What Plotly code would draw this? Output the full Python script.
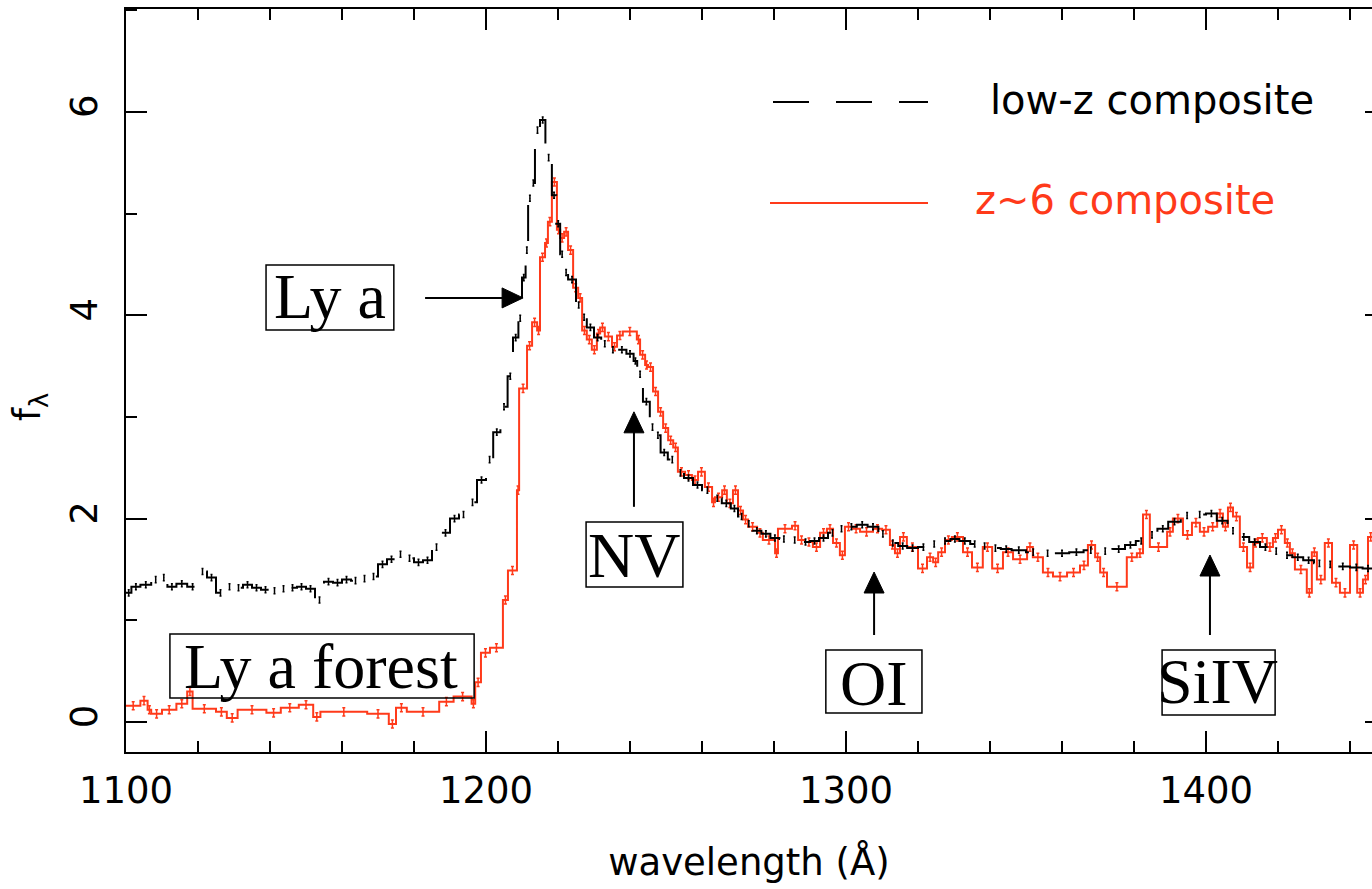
import plotly.graph_objects as go

# ---------------- data ----------------
# z~6 composite: bin left edges (Angstrom) and flux values
red_wave = [1100.0, 1104.0, 1106.0, 1107.0, 1110.0, 1114.0, 1117.0, 1118.5, 1125.0, 1128.0,
            1131.0, 1139.0, 1143.0, 1148.0, 1152.0, 1154.0, 1167.0, 1173.0, 1175.0, 1178.0,
            1187.0, 1191.0, 1196.0, 1197.0, 1198.6, 1201.1, 1204.7, 1206.1, 1208.6, 1209.2,
            1211.4, 1212.8, 1214.2, 1215.0, 1216.4, 1217.2, 1218.3, 1219.7, 1220.6, 1221.7,
            1222.8, 1224.2, 1225.6, 1226.7, 1228.0, 1229.4, 1230.8, 1231.7, 1233.0, 1235.0,
            1236.4, 1238.0, 1241.9, 1242.8, 1244.2, 1245.0, 1246.4, 1247.8, 1249.2, 1250.6,
            1252.0, 1253.3, 1255.3, 1257.2, 1258.9, 1260.8, 1262.8, 1263.6, 1265.6, 1266.9,
            1268.6, 1270.0, 1271.4, 1272.8, 1275.3, 1276.9, 1280.3, 1281.1, 1285.0, 1286.7,
            1288.6, 1290.8, 1292.8, 1294.7, 1296.4, 1298.3, 1299.7, 1301.7, 1303.9, 1307.5,
            1310.0, 1312.2, 1313.6, 1315.0, 1316.9, 1320.0, 1322.5, 1324.2, 1325.6, 1327.5,
            1329.4, 1332.5, 1335.0, 1338.0, 1340.6, 1343.6, 1346.4, 1350.3, 1351.9, 1354.7,
            1357.5, 1361.4, 1365.0, 1367.2, 1369.2, 1370.6, 1372.5, 1378.0, 1380.8, 1382.5,
            1384.4, 1389.2, 1390.8, 1393.6, 1396.1, 1398.3, 1400.6, 1403.1, 1404.7, 1406.1,
            1407.5, 1409.4, 1411.4, 1413.1, 1414.4, 1416.9, 1418.6, 1420.0, 1421.9, 1423.3,
            1424.7, 1428.0, 1429.4, 1430.8, 1433.0, 1435.0, 1437.2, 1440.0, 1442.0, 1443.6,
            1445.0]
red_flux = [0.16, 0.21, 0.12, 0.08, 0.12, 0.18, 0.30, 0.13, 0.10, 0.04,
            0.12, 0.09, 0.14, 0.17, 0.05, 0.10, 0.08, -0.02, 0.14, 0.10,
            0.20, 0.25, 0.18, 0.39, 0.68, 0.73, 1.20, 1.49, 2.28, 3.28,
            3.70, 3.93, 3.85, 4.57, 4.71, 4.92, 5.31, 4.84, 4.76, 4.82,
            4.64, 4.27, 4.17, 3.85, 3.76, 3.66, 3.82, 3.88, 3.79, 3.69,
            3.80, 3.84, 3.76, 3.61, 3.51, 3.49, 3.25, 3.05, 2.89, 2.77,
            2.70, 2.46, 2.43, 2.38, 2.46, 2.31, 2.16, 2.21, 2.28, 2.15,
            2.28, 2.08, 1.99, 1.92, 1.86, 1.79, 1.66, 1.90, 1.93, 1.79,
            1.77, 1.72, 1.86, 1.90, 1.76, 1.64, 1.92, 1.90, 1.87, 1.90,
            1.89, 1.74, 1.66, 1.82, 1.72, 1.51, 1.62, 1.57, 1.67, 1.79,
            1.82, 1.67, 1.52, 1.72, 1.51, 1.67, 1.60, 1.72, 1.62, 1.47,
            1.43, 1.47, 1.54, 1.74, 1.62, 1.47, 1.33, 1.62, 1.66, 2.04,
            1.72, 1.87, 2.00, 1.84, 1.96, 1.87, 1.92, 2.05, 1.92, 2.11,
            2.02, 1.72, 1.52, 1.76, 1.81, 1.72, 1.81, 1.89, 1.76, 1.66,
            1.50, 1.27, 1.67, 1.40, 1.76, 1.37, 1.27, 1.74, 1.27, 1.40,
            1.82]
red_end = 1446.5
red_err = 0.04

# low-z composite: bin left edges (Angstrom) and flux values
black_wave = [1100.0, 1101.5, 1104.0, 1107.0, 1109.5, 1111.5, 1114.0, 1117.0, 1120.0, 1122.5,
              1125.0, 1127.5, 1130.0, 1132.5, 1135.0, 1137.5, 1140.0, 1142.5, 1145.0, 1147.5,
              1150.0, 1152.5, 1155.0, 1157.5, 1160.0, 1162.5, 1165.0, 1167.5, 1170.0, 1172.5,
              1175.0, 1177.5, 1180.0, 1182.5, 1185.0, 1187.5, 1190.0, 1192.5, 1195.0, 1197.5,
              1200.0, 1202.0, 1204.0, 1206.0, 1207.5, 1209.0, 1210.0, 1211.0, 1211.7, 1212.7,
              1213.6, 1215.0, 1216.5, 1218.3, 1219.5, 1220.6, 1221.7, 1222.8, 1225.0, 1226.5,
              1228.0, 1230.0, 1232.0, 1234.0, 1236.5, 1239.0, 1241.0, 1242.0, 1243.6, 1245.5,
              1247.0, 1248.5, 1250.5, 1253.0, 1255.0, 1257.5, 1260.0, 1263.0, 1265.5, 1268.0,
              1270.0, 1272.0, 1274.0, 1276.5, 1279.0, 1281.5, 1284.0, 1287.5, 1290.0, 1292.5,
              1295.0, 1297.5, 1300.0, 1303.0, 1306.0, 1309.0, 1311.5, 1314.5, 1317.0, 1320.0,
              1323.0, 1326.0, 1329.0, 1331.5, 1334.5, 1337.0, 1340.0, 1343.0, 1346.0, 1350.0,
              1354.0, 1358.0, 1362.0, 1366.0, 1370.0, 1374.0, 1377.5, 1380.5, 1383.5, 1386.5,
              1389.5, 1393.0, 1396.5, 1400.0, 1403.0, 1406.0, 1409.0, 1412.0, 1415.0, 1418.0,
              1421.0, 1424.0, 1427.0, 1430.0, 1433.0, 1436.0, 1440.0, 1443.5]
black_flux = [1.27, 1.33, 1.35, 1.40, 1.42, 1.33, 1.36, 1.33, 1.48, 1.42,
              1.27, 1.33, 1.32, 1.35, 1.32, 1.30, 1.29, 1.31, 1.32, 1.33,
              1.31, 1.20, 1.38, 1.37, 1.40, 1.39, 1.41, 1.43, 1.55, 1.60,
              1.65, 1.61, 1.57, 1.59, 1.72, 1.86, 2.00, 2.04, 2.16, 2.38,
              2.58, 2.85, 3.10, 3.40, 3.78, 3.97, 4.37, 4.64, 5.15, 5.30,
              5.82, 5.92, 5.55, 5.18, 4.90, 4.60, 4.42, 4.35, 4.10, 3.98,
              3.88, 3.78, 3.72, 3.66, 3.66, 3.62, 3.55, 3.42, 3.15, 2.90,
              2.82, 2.65, 2.58, 2.45, 2.40, 2.33, 2.28, 2.20, 2.15, 2.10,
              2.02, 1.95, 1.88, 1.85, 1.81, 1.80, 1.79, 1.77, 1.78, 1.81,
              1.86, 1.90, 1.92, 1.94, 1.92, 1.85, 1.76, 1.73, 1.71, 1.72,
              1.75, 1.78, 1.80, 1.78, 1.75, 1.73, 1.71, 1.70, 1.69, 1.67,
              1.66, 1.66, 1.67, 1.69, 1.68, 1.70, 1.74, 1.78, 1.84, 1.90,
              1.97, 2.03, 2.04, 2.05, 1.98, 1.88, 1.82, 1.77, 1.72, 1.68,
              1.64, 1.62, 1.59, 1.56, 1.55, 1.53, 1.52, 1.51]
black_end = 1446.5
black_err = 0.03

x_tickvals = [1100, 1200, 1300, 1400]
y_tickvals = [0, 2, 4, 6]

# line-feature labels: (text, text x, text y, box x0, x1, y0, y1)
labels = [
    ("Ly a", 1156.7, 4.18, 1138.9, 1174.4, 3.854, 4.494),
    ("Ly a forest", 1154.3, 0.55, 1112.2, 1196.7, 0.236, 0.865),
    ("NV", 1241.0, 1.64, 1227.8, 1254.7, 1.327, 1.967),
    ("OI", 1307.9, 0.38, 1294.4, 1321.1, 0.088, 0.708),
    ("SiIV", 1403.3, 0.40, 1387.8, 1419.2, 0.069, 0.708),
]
# arrows: (tip x, tip y, direction, shaft length in px)
arrows = [
    (1210.3, 4.17, "right", 98),
    (1241.1, 3.05, "up", 95),
    (1307.8, 1.475, "up", 63),
    (1401.1, 1.642, "up", 80),
]

RED = "#ff3a1a"
SANS = "DejaVu Sans"
SERIF = "Liberation Serif"

fig = go.Figure()

# z~6 composite (solid red histogram)
rx = red_wave + [red_end]
ry = red_flux + [red_flux[-1]]
fig.add_trace(go.Scatter(x=rx, y=ry, mode="lines",
                         line=dict(shape="hv", color=RED, width=2),
                         hoverinfo="skip", showlegend=False))
rc = [(a + b) / 2 for a, b in zip(rx[:-1], rx[1:])]
fig.add_trace(go.Scatter(x=rc, y=red_flux, mode="markers",
                         marker=dict(size=1, color=RED),
                         error_y=dict(type="constant", value=red_err, color=RED,
                                      thickness=1.5, width=1.5),
                         hoverinfo="skip", showlegend=False))

# low-z composite (dashed black histogram)
bx = black_wave + [black_end]
by = black_flux + [black_flux[-1]]
fig.add_trace(go.Scatter(x=bx, y=by, mode="lines",
                         line=dict(shape="hv", color="black", width=2, dash="36px,27px"),
                         hoverinfo="skip", showlegend=False))
bc = [(a + b) / 2 for a, b in zip(bx[:-1], bx[1:])]
fig.add_trace(go.Scatter(x=bc, y=black_flux, mode="markers",
                         marker=dict(size=1, color="black"),
                         error_y=dict(type="constant", value=black_err, color="black",
                                      thickness=1.5, width=1),
                         hoverinfo="skip", showlegend=False))

# invisible trace to carry the right-hand tick marks
fig.add_trace(go.Scatter(x=[1100], y=[0], yaxis="y2", mode="markers",
                         marker=dict(opacity=0), hoverinfo="skip", showlegend=False))

shapes = []
annotations = []
for text, tx, ty, x0, x1, y0, y1 in labels:
    shapes.append(dict(type="rect", xref="x", yref="y", x0=x0, x1=x1, y0=y0, y1=y1,
                       line=dict(color="black", width=1.5), fillcolor="rgba(0,0,0,0)",
                       layer="above"))
    annotations.append(dict(x=tx, y=ty, xref="x", yref="y", text=text, showarrow=False,
                            font=dict(family=SERIF, size=64, color="black"),
                            xanchor="center", yanchor="middle"))

HEAD_L, HEAD_W = 21, 10
for tx, ty, direction, length in arrows:
    common = dict(xref="x", yref="y", xsizemode="pixel", ysizemode="pixel",
                  xanchor=tx, yanchor=ty, layer="above")
    if direction == "right":
        shapes.append(dict(type="line", x0=-length, x1=-HEAD_L + 2, y0=0, y1=0,
                           line=dict(color="black", width=2), **common))
        shapes.append(dict(type="path",
                           path=f"M0,0 L{-HEAD_L},{HEAD_W} L{-HEAD_L},{-HEAD_W} Z",
                           fillcolor="black", line=dict(color="black", width=1), **common))
    else:
        shapes.append(dict(type="line", x0=0, x1=0, y0=-length, y1=-HEAD_L + 2,
                           line=dict(color="black", width=2), **common))
        shapes.append(dict(type="path",
                           path=f"M0,0 L{-HEAD_W},{-HEAD_L} L{HEAD_W},{-HEAD_L} Z",
                           fillcolor="black", line=dict(color="black", width=1), **common))

# legend drawn by hand
L, W = 126, 1246
T, H = 752, 743
def px(x):
    return (x - L) / W
def py(y):
    return (T - y) / H

shapes.append(dict(type="line", xref="paper", yref="paper", x0=px(773), x1=px(928),
                   y0=py(102), y1=py(102), line=dict(color="black", width=2, dash="36px,27px")))
shapes.append(dict(type="line", xref="paper", yref="paper", x0=px(770), x1=px(928),
                   y0=py(203), y1=py(203), line=dict(color=RED, width=2)))
annotations.append(dict(x=px(988), y=py(100), xref="paper", yref="paper", text="low-z composite",
                        showarrow=False, xanchor="left", yanchor="middle",
                        font=dict(family=SANS, size=40, color="black")))
annotations.append(dict(x=px(973), y=py(200), xref="paper", yref="paper", text="z~6 composite",
                        showarrow=False, xanchor="left", yanchor="middle",
                        font=dict(family=SANS, size=40, color=RED)))
# y-axis title
annotations.append(dict(x=px(30), y=py(407), xref="paper", yref="paper", text="f<sub>λ</sub>",
                        showarrow=False, xanchor="center", yanchor="middle", textangle=-90,
                        font=dict(family=SANS, size=37, color="black")))

fig.update_layout(
    width=1372, height=889,
    margin=dict(l=126, r=0, t=9, b=137, pad=0),
    paper_bgcolor="white", plot_bgcolor="white",
    shapes=shapes, annotations=annotations,
    xaxis=dict(range=[1100, 1446.11], tickvals=x_tickvals, ticktext=[str(v) for v in x_tickvals],
               ticks="inside", ticklen=21, tickwidth=2, tickcolor="black",
               minor=dict(dtick=20, tick0=1100, ticks="inside", ticklen=11, tickwidth=2,
                          tickcolor="black"),
               showline=True, linecolor="black", linewidth=2, mirror="ticks",
               showgrid=False, zeroline=False, ticklabelstandoff=5,
               tickfont=dict(family=SANS, size=37, color="black"),
               title=dict(text="wavelength (Å)", font=dict(family=SANS, size=37, color="black"),
                          standoff=38)),
    yaxis=dict(range=[-0.295, 7.011], tickvals=y_tickvals, ticktext=[str(v) for v in y_tickvals],
               ticks="inside", ticklen=21, tickwidth=2, tickcolor="black",
               minor=dict(dtick=1, tick0=0, ticks="inside", ticklen=11, tickwidth=2,
                          tickcolor="black"),
               showline=True, linecolor="black", linewidth=2, mirror=False,
               showgrid=False, zeroline=False, tickangle=-90,
               tickfont=dict(family=SANS, size=37, color="black"),
               ticklabelstandoff=12),
    yaxis2=dict(range=[-0.295, 7.011], overlaying="y", side="right", anchor="x",
                tickvals=y_tickvals, ticks="inside", ticklen=7, tickwidth=2, tickcolor="black",
                showticklabels=False, showline=False, showgrid=False, zeroline=False),
)

fig.write_html("out.html")
